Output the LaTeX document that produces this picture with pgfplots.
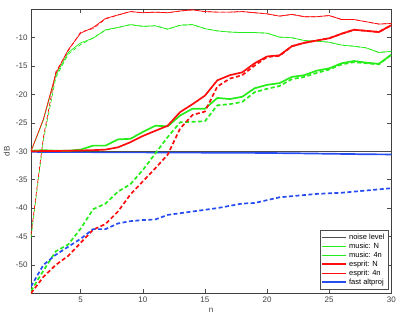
\documentclass[border=0pt]{standalone}
\usepackage{fontspec}
\setmainfont{Liberation Sans}
\usepackage{pgfplots}
\pgfplotsset{compat=1.18}
\definecolor{mgreen}{rgb}{0.15,0.93,0.1}
\definecolor{mred}{rgb}{1,0.05,0.05}
\definecolor{mblue}{rgb}{0.15,0.3,0.95}
\definecolor{mnoise}{rgb}{0.3,0.3,0.3}
\begin{document}
\begin{tikzpicture}
\begin{axis}[
  at={(0,0)}, anchor=south west,
  scale only axis, width=360.3pt, height=284pt,
  xmin=1, xmax=30, ymin=-55, ymax=-5,
  xtick={5,10,...,30}, ytick={-50,-45,...,-10},
  tick align=inside, major tick length=4pt,
  tick style={black!70, line width=0.5pt},
  axis line style={black!75, line width=0.6pt},
  ticklabel style={font=\fontsize{8}{9}\selectfont, text=black!75},
  /pgf/number format/assume math mode=true,
  xlabel={n}, ylabel={dB},
  label style={font=\fontsize{8}{9}\selectfont, text=black!75},
  xlabel style={at={(axis description cs:0.5,-0.0616)}, anchor=center},
  ylabel style={at={(axis description cs:-0.0675,0.5)}, anchor=center},
  legend style={at={(axis description cs:0.9917,0.014)}, anchor=south east,
    draw=black!70, line width=0.5pt, font=\fontsize{7.5}{8.5}\selectfont,
    inner sep=1.5pt, row sep=-2pt, cells={anchor=west}, fill=white},
  legend image code/.code={\draw[#1] (0pt,0pt) -- (24pt,0pt);},
  every axis plot/.append style={line join=round},
]
\addlegendimage{mnoise, line width=1pt}\addlegendentry{noise level}
\addlegendimage{mgreen, line width=1.7pt}\addlegendentry{music: N}
\addlegendimage{mgreen, line width=0.7pt}\addlegendentry{music: 4n}
\addlegendimage{mred, line width=1.7pt}\addlegendentry{esprit: N}
\addlegendimage{mred, line width=0.7pt}\addlegendentry{esprit: 4n}
\addlegendimage{mblue, line width=1.7pt}\addlegendentry{fast altproj}

% fast altproj, solid
\addplot[forget plot, mblue, line width=1.7pt] coordinates {
(1,-30.10) (2,-30.11) (3,-30.12) (4,-30.13) (5,-30.14) (6,-30.15) (7,-30.16) (8,-30.17) (9,-30.18) (10,-30.19)
(11,-30.20) (12,-30.21) (13,-30.22) (14,-30.23) (15,-30.24) (16,-30.25) (17,-30.26) (18,-30.27) (19,-30.28) (20,-30.30)
(21,-30.32) (22,-30.34) (23,-30.37) (24,-30.40) (25,-30.43) (26,-30.46) (27,-30.49) (28,-30.52) (29,-30.54) (30,-30.55)};
% noise level
\addplot[forget plot, mnoise, line width=1pt] coordinates {(1,-30) (30,-30)};

% music thin dashed
\addplot[forget plot, mgreen, line width=0.7pt, dash pattern=on 4pt off 2.5pt] coordinates {
(1,-45.2) (2,-28.0) (3,-17.0) (4,-12.9) (5,-11.2) (6,-10.0) (7,-8.7) (8,-8.2) (9,-7.7) (10,-8.0)
(11,-7.9) (12,-8.5) (13,-7.8) (14,-7.7) (15,-8.4) (16,-8.8) (17,-9.0) (18,-9.1) (19,-9.1) (20,-9.2)
(21,-9.9) (22,-10.0) (23,-10.5) (24,-10.6) (25,-10.8) (26,-11.3) (27,-11.5) (28,-11.8) (29,-12.6) (30,-12.4)};
% music 4n
\addplot[forget plot, mgreen, line width=0.7pt] coordinates {
(1,-30.0) (2,-24.5) (3,-16.6) (4,-12.6) (5,-10.9) (6,-10.1) (7,-8.6) (8,-8.2) (9,-7.7) (10,-8.0)
(11,-7.9) (12,-8.5) (13,-7.8) (14,-7.7) (15,-8.4) (16,-8.8) (17,-9.0) (18,-9.1) (19,-9.1) (20,-9.2)
(21,-9.9) (22,-10.0) (23,-10.5) (24,-10.6) (25,-10.8) (26,-11.3) (27,-11.5) (28,-11.8) (29,-12.6) (30,-12.4)};
% music thick dashed
\addplot[forget plot, mgreen, line width=1.7pt, dash pattern=on 4pt off 2.5pt] coordinates {
(1,-54.6) (2,-51.0) (3,-47.6) (4,-46.4) (5,-43.6) (6,-40.2) (7,-39.2) (8,-37.1) (9,-35.8) (10,-33.3)
(11,-30.4) (12,-27.5) (13,-24.9) (14,-24.8) (15,-24.7) (16,-21.9) (17,-21.7) (18,-21.3) (19,-19.6) (20,-19.0)
(21,-18.5) (22,-17.3) (23,-16.9) (24,-16.2) (25,-15.6) (26,-14.7) (27,-14.3) (28,-14.5) (29,-14.7) (30,-13.0)};
% music N
\addplot[forget plot, mgreen, line width=1.7pt] coordinates {
(1,-29.9) (2,-29.8) (3,-29.9) (4,-29.9) (5,-29.7) (6,-29.0) (7,-29.0) (8,-27.9) (9,-27.8) (10,-26.6)
(11,-25.5) (12,-25.6) (13,-23.7) (14,-22.5) (15,-22.5) (16,-20.6) (17,-20.8) (18,-20.4) (19,-18.9) (20,-18.3)
(21,-18.0) (22,-16.9) (23,-16.6) (24,-15.8) (25,-15.4) (26,-14.5) (27,-14.1) (28,-14.4) (29,-14.6) (30,-13.0)};

% esprit thin dashed
\addplot[forget plot, mred, line width=0.7pt, dash pattern=on 4pt off 2.5pt] coordinates {
(1,-44.7) (2,-27.5) (3,-16.0) (4,-12.3) (5,-9.0) (6,-8.4) (7,-6.7) (8,-6.0) (9,-5.4) (10,-5.6)
(11,-5.5) (12,-5.6) (13,-5.3) (14,-5.1) (15,-5.4) (16,-5.5) (17,-5.5) (18,-5.4) (19,-5.6) (20,-5.8)
(21,-6.2) (22,-5.9) (23,-6.3) (24,-6.3) (25,-6.1) (26,-6.8) (27,-6.8) (28,-7.2) (29,-7.6) (30,-7.5)};
% esprit 4n
\addplot[forget plot, mred, line width=0.7pt] coordinates {
(1,-30.0) (2,-24.3) (3,-16.3) (4,-12.1) (5,-9.2) (6,-8.2) (7,-6.6) (8,-6.0) (9,-5.4) (10,-5.6)
(11,-5.5) (12,-5.6) (13,-5.3) (14,-5.1) (15,-5.4) (16,-5.5) (17,-5.5) (18,-5.4) (19,-5.6) (20,-5.8)
(21,-6.2) (22,-5.9) (23,-6.3) (24,-6.3) (25,-6.1) (26,-6.8) (27,-6.8) (28,-7.2) (29,-7.6) (30,-7.5)};
% esprit thick dashed
\addplot[forget plot, mred, line width=1.7pt, dash pattern=on 4pt off 2.5pt] coordinates {
(1,-55.0) (2,-52.1) (3,-50.0) (4,-48.4) (5,-46.1) (6,-43.8) (7,-42.8) (8,-40.6) (9,-37.6) (10,-35.3)
(11,-33.0) (12,-30.6) (13,-26.0) (14,-23.6) (15,-23.0) (16,-18.6) (17,-17.2) (18,-16.6) (19,-14.9) (20,-13.4)
(21,-13.2) (22,-11.5) (23,-10.9) (24,-10.5) (25,-10.1) (26,-9.3) (27,-8.6) (28,-8.8) (29,-9.0) (30,-7.8)};
% esprit N
\addplot[forget plot, mred, line width=1.7pt] coordinates {
(1,-30.0) (2,-29.95) (3,-29.95) (4,-29.9) (5,-29.85) (6,-29.8) (7,-29.7) (8,-29.3) (9,-28.4) (10,-27.3)
(11,-26.4) (12,-25.5) (13,-23.1) (14,-21.7) (15,-20.2) (16,-17.5) (17,-16.6) (18,-16.1) (19,-14.5) (20,-13.3)
(21,-13.1) (22,-11.5) (23,-10.9) (24,-10.5) (25,-10.1) (26,-9.3) (27,-8.6) (28,-8.8) (29,-9.0) (30,-7.8)};

% fast altproj dashed
\addplot[forget plot, mblue, line width=1.7pt, dash pattern=on 4pt off 2.5pt] coordinates {
(1,-53.8) (2,-50.0) (3,-48.2) (4,-46.8) (5,-45.4) (6,-43.7) (7,-43.7) (8,-42.7) (9,-42.3) (10,-42.1)
(11,-42.0) (12,-41.2) (13,-40.9) (14,-40.6) (15,-40.3) (16,-40.0) (17,-39.6) (18,-39.2) (19,-39.1) (20,-38.6)
(21,-38.1) (22,-37.9) (23,-37.7) (24,-37.5) (25,-37.4) (26,-37.3) (27,-37.1) (28,-36.9) (29,-36.7) (30,-36.5)};
\end{axis}
\pgfresetboundingbox
\path (-31pt,-23.7pt) rectangle (368pt,293.3pt);
\end{tikzpicture}
\end{document}
